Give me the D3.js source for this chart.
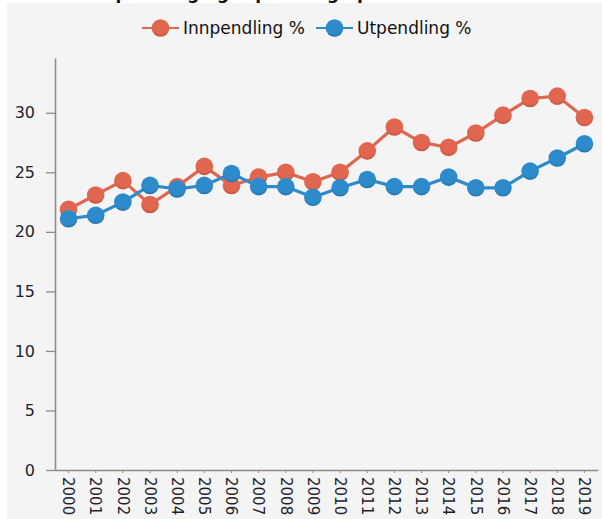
<!DOCTYPE html>
<html>
<head>
<meta charset="utf-8">
<script src="https://cdn.jsdelivr.net/npm/d3@7"></script>
<style>
  html, body { margin: 0; padding: 0; background: #fff; }
  svg { display: block; }
  .tick text { font-family: 'DejaVu Sans', Verdana, sans-serif; fill: #1f1f2e; }
</style>
</head>
<body>
<svg width="602" height="519"></svg>
<script>
const years = ['2000', '2001', '2002', '2003', '2004', '2005', '2006', '2007', '2008', '2009',
  '2010', '2011', '2012', '2013', '2014', '2015', '2016', '2017', '2018', '2019']
const innpendling = [21.9, 23.1, 24.3, 22.3, 23.8, 25.5, 23.9, 24.6, 25.0, 24.2,
  25.0, 26.8, 28.8, 27.5, 27.1, 28.3, 29.8, 31.2, 31.4, 29.6]
const utpendling = [21.1, 21.4, 22.5, 23.9, 23.6, 23.9, 24.9, 23.8, 23.8, 22.9,
  23.7, 24.4, 23.8, 23.8, 24.6, 23.7, 23.7, 25.1, 26.2, 27.4]
const yTicks = [0, 5, 10, 15, 20, 25, 30]
const seriesNames = ['Innpendling %', 'Utpendling %']
const title = 'Innpendling og utpendling i prosent'

const svg = d3.select('svg')

const WIDTH = 602
const HEIGHT = 519
const LEFT = 55
const RIGHT = 598
const TOP = 58
const BOTTOM = 470
const RADIUS = 8.8

const colors = ['#e1664f', '#2e8bcb']
const darker = ['#c24e39', '#1d6fa8']

// background panel
svg.append('rect')
  .attr('x', 7).attr('y', 3)
  .attr('width', WIDTH - 7).attr('height', HEIGHT - 3)
  .attr('fill', '#f4f4f4')

// title, mostly cut off at the top (as in the original)
svg.append('text')
  .attr('x', 258).attr('y', -1)
  .attr('text-anchor', 'middle')
  .attr('font-family', 'DejaVu Sans, Verdana, sans-serif')
  .attr('font-weight', 'bold')
  .attr('font-size', 17)
  .attr('fill', '#111')
  .text(title)

const defs = svg.append('defs')
colors.forEach((c, i) => {
  const g = defs.append('radialGradient')
    .attr('id', 'grad' + i)
    .attr('cx', '50%').attr('cy', '38%').attr('r', '62%')
  g.append('stop').attr('offset', '0%').attr('stop-color', c)
  g.append('stop').attr('offset', '75%').attr('stop-color', c)
  g.append('stop').attr('offset', '100%').attr('stop-color', darker[i])
})

const xScale = d3.scaleBand()
  .domain(years)
  .range([LEFT, RIGHT])

const yScale = d3.scaleLinear()
  .domain([0, 34.6])
  .range([BOTTOM, TOP])

const cx = d => xScale(d) + xScale.bandwidth() / 2

// y axis
const yAxis = svg.append('g')
  .attr('transform', `translate(${LEFT}, 0)`)
  .call(d3.axisLeft(yScale).tickValues(yTicks).tickSize(9).tickSizeOuter(0).tickPadding(11))
yAxis.select('.domain').attr('stroke', '#8c8c8c').attr('stroke-width', 1.6)
yAxis.selectAll('.tick line').attr('stroke', '#8c8c8c').attr('stroke-width', 1.3)
yAxis.selectAll('.tick text').attr('font-size', 16)

// x axis
const xAxis = svg.append('g')
  .attr('transform', `translate(0, ${BOTTOM})`)
  .call(d3.axisBottom(xScale).tickSize(3).tickSizeOuter(0))
xAxis.select('.domain').attr('stroke', '#8c8c8c').attr('stroke-width', 1.6)
xAxis.selectAll('.tick line').attr('stroke', '#8c8c8c')
xAxis.selectAll('.tick text')
  .attr('font-size', 15)
  .attr('text-anchor', 'start')
  .attr('transform', 'rotate(90)')
  .attr('x', 7)
  .attr('y', 0)
  .attr('dy', '0.35em')

// series
const series = [innpendling, utpendling]
const line = d3.line()
  .x((d, i) => cx(years[i]))
  .y(d => yScale(d))

series.forEach((values, s) => {
  svg.append('path')
    .datum(values)
    .attr('d', line)
    .attr('fill', 'none')
    .attr('stroke', colors[s])
    .attr('stroke-width', 3.2)

  svg.append('g')
    .selectAll('circle')
    .data(values)
    .enter()
    .append('circle')
    .attr('cx', (d, i) => cx(years[i]))
    .attr('cy', d => yScale(d))
    .attr('r', RADIUS)
    .attr('fill', `url(#grad${s})`)
})

// legend
const legendX = [142, 316]
const legend = svg.append('g')
seriesNames.forEach((name, i) => {
  const g = legend.append('g').attr('transform', `translate(${legendX[i]}, 28)`)
  g.append('line')
    .attr('x1', 0).attr('x2', 37)
    .attr('stroke', colors[i]).attr('stroke-width', 2)
  g.append('circle')
    .attr('cx', 18.5).attr('r', RADIUS)
    .attr('fill', `url(#grad${i})`)
  g.append('text')
    .attr('x', 41).attr('y', 0)
    .attr('dy', '0.36em')
    .attr('font-family', 'DejaVu Sans, Verdana, sans-serif')
    .attr('font-size', 17)
    .attr('fill', '#111')
    .text(name)
})
</script>
</body>
</html>
